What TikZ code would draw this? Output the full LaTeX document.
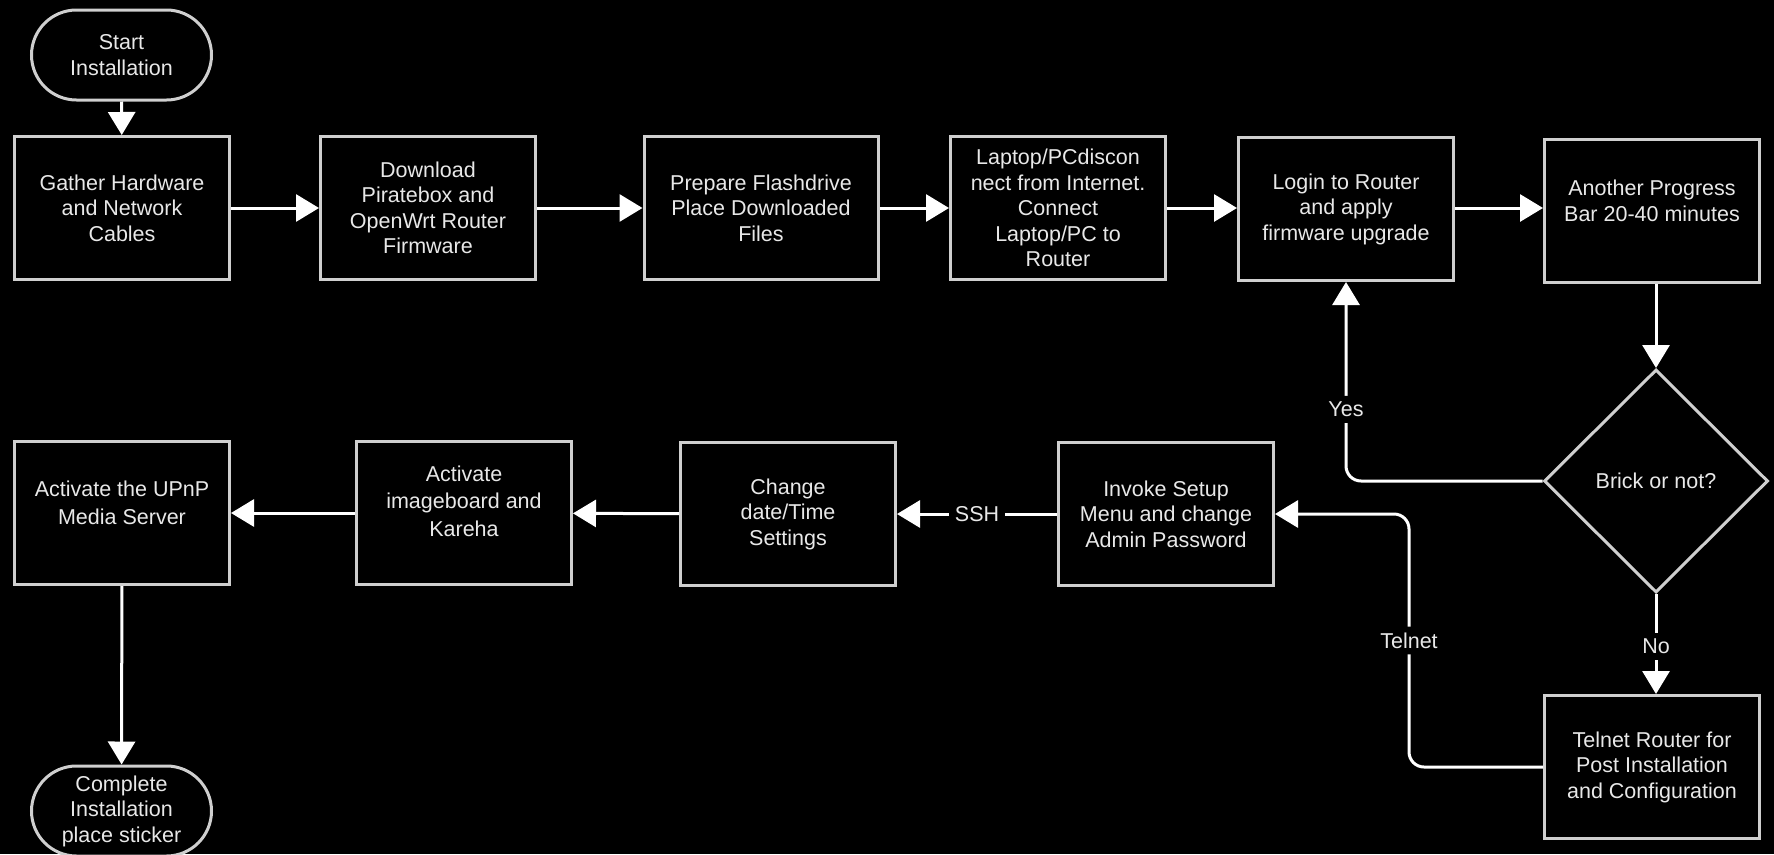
\documentclass[tikz,border=0pt]{standalone}
\usepackage{fontspec}
\setmainfont{Liberation Sans}
\usetikzlibrary{shapes.geometric,arrows.meta}
\definecolor{boxline}{HTML}{CFCFCF}
\definecolor{txt}{HTML}{E8E8E8}
\tikzset{
  every node/.style={font=\fontsize{21.5}{25.5}\selectfont, text=txt},
  proc/.style={draw=boxline, line width=3pt, fill=black, rectangle, align=center,
    minimum width=215pt, minimum height=143pt, inner sep=2pt},
  term/.style={draw=boxline, line width=3pt, fill=black, rectangle, rounded corners=45pt,
    align=center, minimum width=180pt, minimum height=90pt, inner sep=2pt},
  decision/.style={draw=boxline, line width=3pt, fill=black, diamond, align=center,
    minimum width=224pt, minimum height=223pt, inner sep=0pt},
  txtblock/.style={align=center, inner sep=0pt},
  conn/.style={draw=white, line width=3pt, -{Triangle[width=27pt,length=23pt]}},
  lbl/.style={fill=black, inner sep=6pt, text=txt}
}
\begin{document}
\begin{tikzpicture}[x=1pt,y=-1pt]
\fill[black] (0,0) rectangle (1774,854);
\useasboundingbox (0,0) rectangle (1774,854);
% nodes
\node[term] (start) at (121.5,55) {Start\\Installation};
\node[proc] (gather) at (122,208) {Gather Hardware\\and Network\\Cables};
\node[proc] (download) at (428,208) {Download\\Piratebox and\\OpenWrt Router\\Firmware};
\node[proc, minimum width=234pt] (prepare) at (761,208) {Prepare Flashdrive\\Place Downloaded\\Files};
\node[proc] (laptop) at (1058,208) {Laptop/PCdiscon\\nect from Internet.\\Connect\\Laptop/PC to\\Router};
\node[proc] (login) at (1346,209) {Login to Router\\and apply\\firmware upgrade};
\node[proc] (another) at (1652,211) {};
\node[txtblock] (anothertxt) at (1652,201) {Another Progress\\Bar 20-40 minutes};
\node[decision] (brick) at (1656,481) {Brick or not?};
\node[proc] (telnetr) at (1652,767) {Telnet Router for\\Post Installation\\and Configuration};
\node[proc] (invoke) at (1166,514) {Invoke Setup\\Menu and change\\Admin Password};
\node[proc] (change) at (788,514) {Change\\date/Time\\Settings};
\node[proc] (imageb) at (464,513) {};
\node[txtblock, font=\fontsize{21.5}{27.5}\selectfont] (imagebtxt) at (464,501) {Activate\\imageboard and\\Kareha};
\node[proc] (upnp) at (122,513) {};
\node[txtblock, font=\fontsize{21.5}{28}\selectfont] (upnptxt) at (122,503) {Activate the UPnP\\Media Server};
\node[term] (complete) at (121.5,811) {Complete\\Installation\\place sticker};
\coordinate (tbend) at (1409,514);
% connectors
\draw[conn] (start) -- (gather);
\draw[conn] (gather) -- (download);
\draw[conn] (download) -- (prepare);
\draw[conn] (prepare) -- (laptop);
\draw[conn] (laptop) -- (login.west |- laptop.east);
\draw[conn] (login.east |- laptop.east) -- (another.west |- laptop.east);
\draw[conn] (brick.north |- another.south) -- (brick.north);
\draw[conn, rounded corners=15pt] (brick.west) -| node[lbl, pos=0.68] {Yes} (login.south);
\draw[conn] (brick.south) -- node[lbl, pos=0.52] {No} (brick.south |- telnetr.north);
\draw[conn, rounded corners=15pt] (telnetr.west) -| node[lbl, pos=0.75] {Telnet} (tbend) -- (invoke.east);
\draw[conn] (invoke) -- node[lbl] {SSH} (change);
\draw[conn] (change) -- (imageb);
\draw[conn] (imageb) -- (upnp);
\draw[conn] (upnp) -- (complete);
\end{tikzpicture}
\end{document}
